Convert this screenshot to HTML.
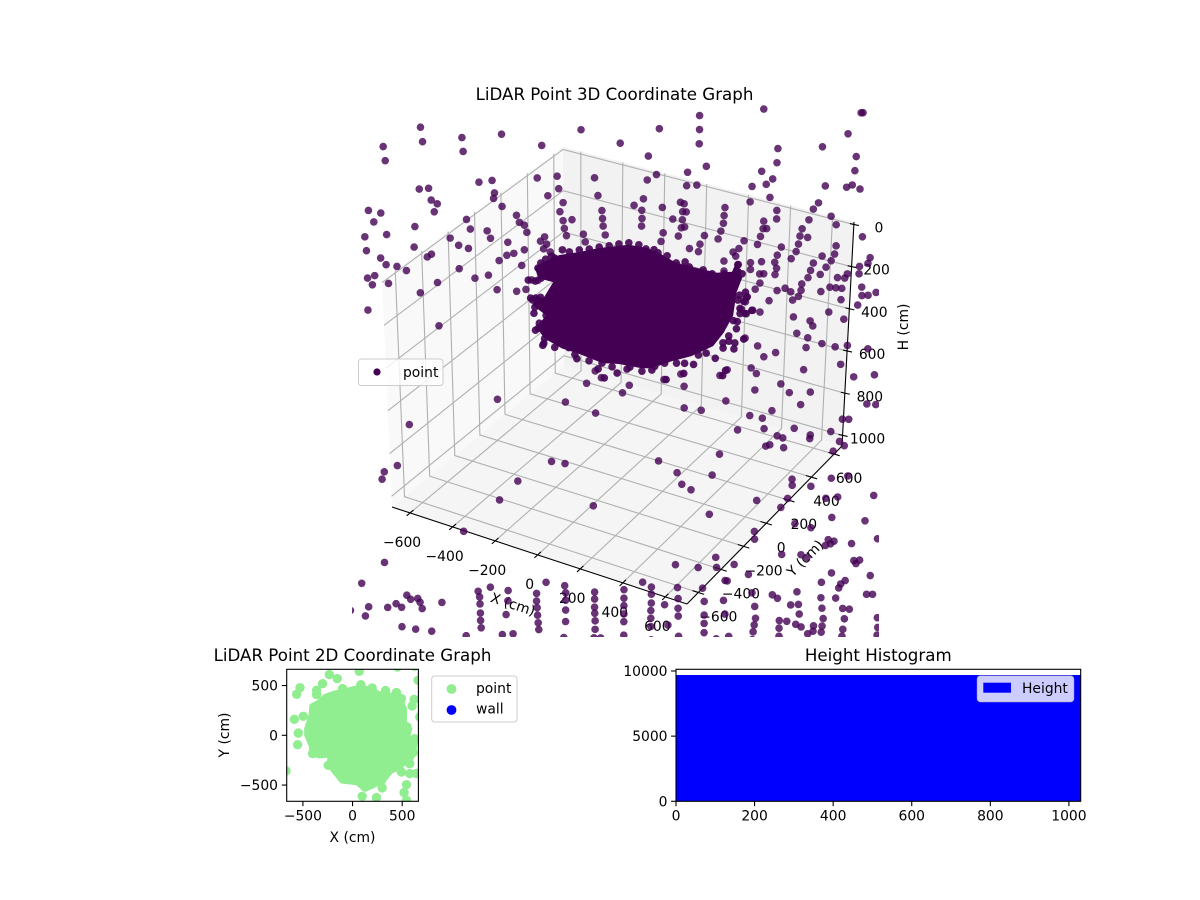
<!DOCTYPE html>
<html lang="en">
<head>
<meta charset="utf-8">
<title>LiDAR Point Graphs</title>
<style>
html,body{margin:0;padding:0;background:#fff;}
svg{display:block;}
text{font-family:"DejaVu Sans","Liberation Sans",sans-serif;fill:#000;}
</style>
</head>
<body>
<svg id="figure" width="1200" height="900" viewBox="0 0 1200 900" xmlns="http://www.w3.org/2000/svg">
  <defs>
    <clipPath id="clip3d"><rect x="352" y="100" width="527" height="537"/></clipPath>
    <clipPath id="clip2d"><rect x="286.7" y="669.3" width="131.7" height="132"/></clipPath>
  </defs>
  <rect x="0" y="0" width="1200" height="900" fill="#fff"/>
  <text x="614.5" y="100" font-size="16.67" text-anchor="middle">LiDAR Point 3D Coordinate Graph</text>
  <g id="scene3d"></g>
  <g id="points3d" clip-path="url(#clip3d)"></g>
  <g>
    <rect x="358.5" y="359" width="84.5" height="26.5" rx="3" fill="#fff" fill-opacity="0.8" stroke="#ccc" stroke-width="1"/>
    <circle cx="377" cy="372" r="3.6" fill="#440154"/>
    <text x="403" y="377" font-size="13.89">point</text>
  </g>

  <text x="352.5" y="661" font-size="16.67" text-anchor="middle">LiDAR Point 2D Coordinate Graph</text>
  <g id="plot2d" clip-path="url(#clip2d)"></g>
  <rect x="286.7" y="669.3" width="131.7" height="132" fill="none" stroke="#000" stroke-width="1.1"/>
  <g id="ticks2d"></g>
  <text x="352.5" y="842" font-size="13.89" text-anchor="middle">X (cm)</text>
  <text x="229" y="735" font-size="13.89" text-anchor="middle" transform="rotate(-90 229 735)">Y (cm)</text>
  <g>
    <rect x="431.7" y="676" width="85.3" height="46" rx="3" fill="#fff" fill-opacity="0.8" stroke="#ccc" stroke-width="1"/>
    <circle cx="451.5" cy="689" r="4.9" fill="#90ee90"/>
    <circle cx="451.5" cy="710" r="4.9" fill="#0000ff"/>
    <text x="476" y="693" font-size="13.89">point</text>
    <text x="476" y="713.5" font-size="13.89">wall</text>
  </g>

  <text x="878.3" y="661" font-size="16.67" text-anchor="middle">Height Histogram</text>
  <g id="hist"></g>
  <rect x="676" y="669.3" width="404.7" height="132" fill="none" stroke="#000" stroke-width="1.1"/>
  <g id="histTicks"></g>
  <g>
    <rect x="977.3" y="676" width="96.4" height="25.7" rx="3" fill="#fff" fill-opacity="0.8" stroke="#ccc" stroke-opacity="0.8" stroke-width="1"/>
    <rect x="983.3" y="682.7" width="27.7" height="10" fill="#0000ff"/>
    <text x="1022" y="693" font-size="13.89">Height</text>
  </g>
</svg>
<script>
// ---------- 3D chart data ----------
const xTickValues = [-600, -400, -200, 0, 200, 400, 600];
const yTickValues = [-600, -400, -200, 0, 200, 400, 600];
const hTickValues = [0, 200, 400, 600, 800, 1000];
const pointDepthY = -15;

const pointX = [
-905,-897,-1083,-1075,-711,-707,-524,-336,-149,-636,-574,-918,-874,-564,-569,-863,-835,-850,-1160,-1102,-1136,-530,-361,-267,-261,-313,-91,-77,-242,-258,-60,-58,-244,-202,-56,-239,-230,-150,-47,-142,-699,-463,-450,-427,-416,-682,-603,-588,-943,-1077,-1180,-1174,-778,-739,-693,-949,-868,-888,-1108,-1083,-1032,-988,-507,-430,-333,-353,-324,-339,-308,-513,-480,-550,-444,-739,-602,-666,-399,-369,-1172,-1138,-1150,-1074,-843,-925,-563,-471,-427,-1174,-841,
411,409,406,220,714,1172,1181,34,165,1108,776,986,1144,437,770,348,201,157,697,1136,342,390,748,717,650,995,1095,1122,1158,733,639,961,137,92,225,128,311,328,320,337,520,936,764,128,273,318,515,762,1019,511,125,312,328,701,914,697,714,1042,498,881,226,297,420,484,870,906,684,606,215,669,862,1164,398,348,390,781,1039,553,581,850,972,1031,761,565,1014,509,826,748,930,686,634,1198,1187,989,1147,916,756,633,576,508,748,676,695,1042,1089,1144,903,961,1076,873,756,794,676,653,820,1005,1033,1061,1155,869,962,1222,856,1155,1184,828,717,1056,1134,615,606,586,639,673,997,609,830,908,920,1067,844,895,600,961,886,658,742,1023,1081,1177,686,1047,872,625,512,
213,293,307,477,649,49,16,640,763,802,901,854,502,305,385,718,613,672,1049,1079,993,554,679,821,740,766,896,893,1033,1055,1002,769,704,685,1107,1205,1166,1208,466,178,264,429,286,329,805,805,893,990,1068,1188,962,1018,782,636,749,988,1144,415,815,890,626,627,971,998,982,958,1080,1201,754,844,872,446,532,258,364,450,1091,1118,1101,987,1168,599,500,490,105,268,385,146,940,1051,1030,1021,826,711,735,1151,1179,616,1007,938,483,271,146,393,797,833,629,943,1040,1071,208,146,271,490,837,1048,1202,949,633,744,779,821,846,904,944,393,393,627,743,1204,1041,224,144,144,144,272,274,393,622,743,877,902,940,1201,1037,508,450,677,810,146,1029,1193,618,18,18,18,18,18,18,
-574,-254,-113,-988,-1043,-1104,-1114,-152,-110,-82,-323,-260,-480,-565,-127,-732,-1101,-1207,-346,-259,-606,-663,-523,-390,-254,-119,-996,-978,-945,-934,-924,-832,-1046,-1020,-1085,-1174,-1189,-656,-654,-652,-651,-648,-524,-532,-390,-387,-385,-382,-379,-254,-254,-254,-119,-119,-118,-116,-116,-1018,-954,-879,-718,-549,-499,-262,-121,-90,-1259
];
const pointH = [
-322,-259,-185,-124,-329,-268,-396,-397,-518,-150,-175,-40,-56,-122,-96,-6,3,43,125,120,170,-71,-245,-279,-225,-179,-320,-245,-168,-123,-183,-148,-87,-103,-115,-54,-24,-53,-78,-21,35,-50,-22,-16,13,73,59,88,136,210,250,311,141,162,163,230,239,257,325,348,341,347,83,95,10,35,40,65,70,143,125,177,169,267,257,289,221,214,434,413,458,430,359,429,311,292,271,579,553,
-731,-669,-605,-622,-840,-943,-946,-508,-486,-835,-683,-746,-745,-514,-619,-464,-414,-378,-562,-681,-403,-419,-542,-510,-483,-577,-598,-615,-607,-457,-412,-494,-289,-248,-275,-236,-321,-319,-282,-286,-355,-460,-408,-200,-237,-246,-318,-370,-451,-283,-165,-209,-217,-344,-407,-310,-315,-420,-245,-359,-163,-168,-204,-207,-324,-328,-272,-232,-122,-233,-287,-400,-160,-127,-125,-252,-327,-168,-191,-251,-264,-289,-211,-153,-255,-116,-213,-176,-222,-162,-143,-318,-290,-220,-266,-186,-152,-113,-119,-72,-122,-105,-111,-189,-218,-233,-151,-181,-196,-115,-54,-75,-65,-32,-66,-137,-142,-147,-178,-86,-106,-173,-56,-141,-150,-32,1,-96,-94,12,36,75,65,63,-26,88,41,37,56,-14,109,115,198,122,160,216,222,119,97,85,256,189,261,322,362,
490,443,493,397,340,562,605,415,354,381,351,419,502,589,577,484,535,530,428,420,498,615,574,532,588,590,540,557,530,542,581,632,638,649,227,191,329,320,747,860,887,850,932,944,760,787,766,703,671,722,799,777,851,902,900,875,845,1027,952,948,1041,1075,977,976,992,1006,963,907,1105,1080,1083,1208,1214,1296,1277,1251,1034,1024,1044,1118,1077,1238,1296,1297,1419,1394,1362,1428,1173,1133,1154,1174,1248,1295,1303,1164,1156,1314,1222,1241,1387,1442,1460,1418,1314,1301,1370,1285,1258,1252,1488,1499,1485,1445,1342,1301,1251,1329,1421,1398,1391,1392,1396,1374,1363,1478,1515,1452,1432,1293,1349,1573,1533,1567,1603,1519,1608,1556,1484,1467,1417,1398,1391,1327,1380,1538,1566,1510,1480,1662,1407,1358,1519,1478,1516,1549,1586,1620,1680,
805,724,732,1041,1242,1289,1325,611,544,566,1009,1000,1143,1253,1149,1444,1697,1824,1555,1544,1656,1692,1646,1618,1574,1530,1812,1825,1811,1825,1850,1794,1866,1874,1895,1920,1966,1715,1746,1786,1819,1851,1692,1756,1652,1681,1714,1747,1776,1607,1651,1702,1561,1597,1624,1657,1695,1961,1952,1938,1908,1851,1832,1776,1734,1725,1963
];

// Dense cloud: outline of the solid core, then the dots that scallop its edge
const cloudHullX = [-382,-345,-265,-171,-77,63,143,204,284,378,471,546,570,593,565,546,499,448,345,251,157,110,2,-77,-185,-265,-345,-382,-335,-396,-382,-345,-298,-368];
const cloudHullH = [163,126,72,32,-12,-65,-74,-68,-46,-50,-54,-79,-135,-65,6,114,203,276,349,398,456,469,481,499,489,488,467,427,361,333,284,287,202,204];
const cloudRimX = [-415,-382,-354,-368,-354,-288,-251,-382,-387,-359,-335,-368,-373,-345,-349,-298,-232,-204,-195,-138,-96,-68,-7,54,-77,171,218,312,354,307,223,378,457,490,504,546,551,495,495,523,593,560,565,579,603,635,579,598,612,607,579,574,574,593,452,345,284,199,143,-171,-77,16,-396,
-331,-303,-218,-124,-30,63,110,181,242,326,410,509,-406,-392,-387,-354,-30,40,110,157,274,415,523,546,570];
const cloudRimH = [226,221,200,159,133,92,45,297,339,287,361,405,429,467,490,493,475,498,514,507,531,563,524,480,499,443,416,390,383,436,487,335,327,394,367,261,233,271,248,233,204,168,135,96,89,66,73,37,15,-6,15,-118,-87,-83,-44,-45,-46,-67,-69,23,-16,-56,310,
109,87,45,6,-35,-74,-78,-76,-66,-62,-50,-60,304,368,442,500,503,493,482,464,400,316,210,136,39];

// ---------- 2D chart data ----------
const xy2dTickValues = [-500, 0, 500];
const blobX = [-472,-429,-419,-345,-278,-178,-94,74,198,308,442,492,533,533,586,566,643,626,593,526,476,392,325,208,124,40,-111,-194,-245,-238,-328,-412,-429,-472];
const blobY = [67,201,302,342,402,436,452,496,469,409,419,369,268,134,67,-17,-50,-184,-251,-285,-335,-369,-452,-519,-553,-486,-469,-369,-302,-208,-218,-201,-100,0];
const groundX = [-234,-154,-302,67,-529,-563,-362,-362,-100,84,198,332,442,492,620,600,660,677,-586,-496,-546,-553,-402,-670,97,241,298,543,519,543,492,576,576,643,626,576,610,549,452,626,-439,-245,-111,124,291,-144];
const groundY = [610,570,519,643,479,412,452,409,469,509,476,449,429,369,362,295,553,184,161,191,23,-94,-184,-358,-613,-626,-529,-496,-576,-653,-369,-285,-385,-385,-34,-100,-174,84,687,693,57,-302,-419,-519,-452,-369];

// ---------- Histogram data ----------
const histEdges = [0,100,200,300,400,500,600,700,800,900,1000,1030];
const histCounts = [9700,9700,9700,9700,9700,9700,9700,9700,9700,9700,9700];
const histXTicks = [0,200,400,600,800,1000];
const histYTicks = [0,5000,10000];

// ---------- helpers ----------
const NS = 'http://www.w3.org/2000/svg';
function make(tag, parent, props) {
  const el = document.createElementNS(NS, tag);
  for (const k in props) el.setAttribute(k, props[k]);
  parent.appendChild(el);
  return el;
}
function fmt(v) { return v < 0 ? '\u2212' + Math.abs(v) : String(v); }
function lerp(a, b, t) { return a + (b - a) * t; }

// corners indexed [u][v][w]; w=0 is the top of the box, w=1 the floor
const corners = [
  [[[382,280],[392,507]], [[563,147],[564,366]]],
  [[[664,373],[687,604]], [[854,222],[842,446]]]
];
function project(u, v, w) {
  const out = [0, 0];
  for (let i = 0; i < 2; i++) {
    const c00 = lerp(corners[0][0][0][i], corners[0][0][1][i], w);
    const c01 = lerp(corners[0][1][0][i], corners[0][1][1][i], w);
    const c10 = lerp(corners[1][0][0][i], corners[1][0][1][i], w);
    const c11 = lerp(corners[1][1][0][i], corners[1][1][1][i], w);
    out[i] = lerp(lerp(c00, c01, v), lerp(c10, c11, v), u);
  }
  return out;
}
// axis scales
function axisU(x) { return (x + 685) / 1387; }
function axisV(y) { return (y + 700) / 1370; }
function axisW(h) { return (h + 12) / 1062; }
// scatter scales; points below the floor lean back with the perspective
function pointPos(x, y, h) {
  const p = project((x + 670) / 1340, (y + 700) / 1370, h / 1000);
  p[0] -= Math.max(0, h - 900) * 0.0065;
  return p;
}

// ---------- 3D axes ----------
const scene = document.getElementById('scene3d');
function pane(name, pts, fill) {
  const el = make('polygon', scene, {points: pts.map(p => p.join(',')).join(' '), fill: fill});
  
  
}
pane('pane-x-wall', [project(0,0,0), project(0,0,1), project(0,1,1), project(0,1,0)], '#f9f9f9');
pane('pane-y-wall', [project(0,1,0), project(0,1,1), project(1,1,1), project(1,1,0)], '#f2f2f2');
pane('pane-floor', [project(0,0,1), project(1,0,1), project(1,1,1), project(0,1,1)], '#f5f5f5');

function gridPath(pts) {
  const el = make('polyline', scene, {points: pts.map(p => p.join(',')).join(' '), fill: 'none', stroke: '#b0b0b0', 'stroke-width': 1.1});
  
  
}
function segment(a, b, width) {
  const el = make('line', scene, {x1: a[0], y1: a[1], x2: b[0], y2: b[1], stroke: '#000', 'stroke-width': width});
  
  
}
function tickLabel(parent, x, y, value, name, anchor) {
  const el = make('text', parent, {x: x, y: y, 'font-size': 13.89, 'text-anchor': anchor || 'middle'});
  el.textContent = fmt(value);
  
  
}

xTickValues.forEach(function (x) {
  const u = axisU(x);
  gridPath([project(u,0,1), project(u,1,1), project(u,1,0)]);
});
yTickValues.forEach(function (y) {
  const v = axisV(y);
  gridPath([project(1,v,1), project(0,v,1), project(0,v,0)]);
});
hTickValues.forEach(function (h) {
  const w = axisW(h);
  gridPath([project(0,0,w), project(0,1,w), project(1,1,w)]);
});

segment(project(0,0,1), project(1,0,1), 1.1);
segment(project(1,0,1), project(1,1,1), 1.1);
segment(project(1,1,0), project(1,1,1), 1.1);

xTickValues.forEach(function (x) {
  const u = axisU(x), v0 = -0.02, v1 = 0.02;
  segment(project(u,v0,1), project(u,v1,1), 1.1);
  const p = project(u,0,1);
  tickLabel(scene, p[0] - 8, p[1] + 34, x, 'x-tick-label-3d');
});
yTickValues.forEach(function (y) {
  const v = axisV(y);
  segment(project(0.98,v,1), project(1.02,v,1), 1.1);
  const p = project(1,v,1);
  tickLabel(scene, p[0] + (y < 0 ? 20 : 15), p[1] + 29, y, 'y-tick-label-3d');
});
hTickValues.forEach(function (h) {
  const w = axisW(h);
  const p = project(1,1,w);
  segment([p[0] - 4, p[1] - 1], [p[0] + 5, p[1] + 1], 1.1);
  tickLabel(scene, p[0] + 25, p[1] + 8, h, 'h-tick-label-3d');
});

[['x-axis-title-3d', 'X (cm)', 513, 604, 18],
 ['y-axis-title-3d', 'Y (cm)', 805, 558, -45],
 ['h-axis-title-3d', 'H (cm)', 903, 327, -90]].forEach(function (t) {
  const el = make('text', scene, {x: t[2], y: t[3] + 5, 'font-size': 13.89, 'text-anchor': 'middle', transform: 'rotate(' + t[4] + ' ' + t[2] + ' ' + t[3] + ')'});
  el.textContent = t[1];
  
  
});

// ---------- 3D points ----------
const pts3d = document.getElementById('points3d');
const hull = make('polygon', pts3d, {
  points: cloudHullX.map(function (x, i) { return pointPos(x, pointDepthY, cloudHullH[i]).join(','); }).join(' '),
  fill: '#440154'
});



cloudRimX.forEach(function (x, i) {
  const p = pointPos(x, pointDepthY, cloudRimH[i]);
  const el = make('circle', pts3d, {cx: p[0], cy: p[1], r: 3.8, fill: '#440154', 'fill-opacity': 0.9});
  
  
});
pointX.forEach(function (x, i) {
  const p = pointPos(x, pointDepthY, pointH[i]);
  const el = make('circle', pts3d, {cx: p[0], cy: p[1], r: 3.8, fill: '#440154', 'fill-opacity': 0.8});
  
  
});

// ---------- 2D plot ----------
function x2d(v) { return 352.55 + v * 0.0993; }
function y2d(v) { return 735.3 - v * 0.0995; }
const plot2d = document.getElementById('plot2d');
const blob = make('polygon', plot2d, {
  points: blobX.map(function (x, i) { return x2d(x) + ',' + y2d(blobY[i]); }).join(' '),
  fill: '#90ee90', stroke: '#90ee90', 'stroke-width': 3, 'stroke-linejoin': 'round'
});


groundX.forEach(function (x, i) {
  const el = make('circle', plot2d, {cx: x2d(x), cy: y2d(groundY[i]), r: 4.7, fill: '#90ee90'});
  
  
});
const ticks2d = document.getElementById('ticks2d');
function tickLine(parent, x1, y1, x2, y2, name) {
  const el = make('line', parent, {x1: x1, y1: y1, x2: x2, y2: y2, stroke: '#000', 'stroke-width': 1.1});
  
  
}
xy2dTickValues.forEach(function (v) {
  tickLine(ticks2d, x2d(v), 801.3, x2d(v), 806.2, 'x-tick-2d');
  tickLabel(ticks2d, x2d(v), 820.5, v, 'x-tick-label-2d');
  tickLine(ticks2d, 286.7, y2d(v), 281.8, y2d(v), 'y-tick-2d');
  tickLabel(ticks2d, 278, y2d(v) + 5, v, 'y-tick-label-2d', 'end');
});

// ---------- Histogram ----------
function xHist(v) { return 676 + v / 1030 * 404.7; }
function yHist(v) { return 801.3 - v / 10130 * 132; }
const histG = document.getElementById('hist');
histCounts.forEach(function (c, i) {
  const el = make('rect', histG, {
    x: xHist(histEdges[i]), y: yHist(c),
    width: xHist(histEdges[i + 1]) - xHist(histEdges[i]), height: yHist(0) - yHist(c),
    fill: '#0000ff', 'shape-rendering': 'crispEdges'
  });
  
  
});
const histTicks = document.getElementById('histTicks');
histXTicks.forEach(function (v) {
  tickLine(histTicks, xHist(v), 801.3, xHist(v), 806.2, 'x-tick-histogram');
  tickLabel(histTicks, xHist(v), 820.5, v, 'x-tick-label-histogram');
});
histYTicks.forEach(function (v) {
  tickLine(histTicks, 676, yHist(v), 671.1, yHist(v), 'y-tick-histogram');
  tickLabel(histTicks, 667.5, yHist(v) + 5, v, 'y-tick-label-histogram', 'end');
});
</script>
</body>
</html>
